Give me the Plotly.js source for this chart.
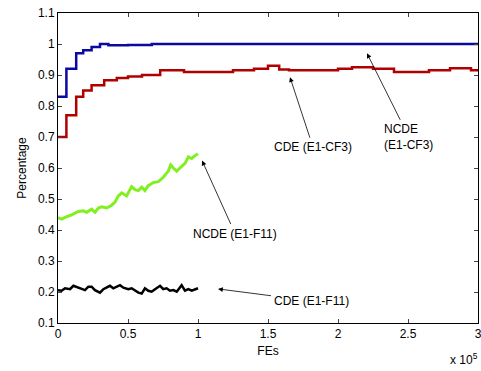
<!DOCTYPE html>
<html><head><meta charset="utf-8">
<script src="https://cdn.plot.ly/plotly-3.0.1.min.js"></script>
<style>html,body{margin:0;padding:0;background:#fff}#chart{width:481px;height:371px}</style>
</head><body><div id="chart"></div>
<script>
// x values in units of 1e5 FEs
const ncdeCF3_x = [0, 0.06, 0.13, 0.18, 0.24, 0.30, 0.36, 0.50, 0.67, 1.0, 1.5, 2.0, 2.5, 3.0];
const ncdeCF3_y = [0.83, 0.92, 0.97, 0.98, 0.99, 1.0, 0.996, 0.997, 1.0, 1.0, 1.0, 1.0, 1.0, 1.0];

const cdeCF3_x = [0, 0.06, 0.13, 0.18, 0.24, 0.33, 0.42, 0.50, 0.60, 0.73, 0.90, 1.0, 1.25, 1.40, 1.50, 1.58, 1.65, 1.85, 2.0, 2.1, 2.25, 2.4, 2.65, 2.8, 2.95, 3.0];
const cdeCF3_y = [0.70, 0.77, 0.83, 0.85, 0.867, 0.883, 0.89, 0.895, 0.90, 0.915, 0.91, 0.91, 0.915, 0.92, 0.93, 0.918, 0.915, 0.915, 0.92, 0.925, 0.92, 0.91, 0.915, 0.922, 0.915, 0.915];

const ncdeF11_x = [0, 0.026, 0.062, 0.098, 0.145, 0.181, 0.205, 0.24, 0.264, 0.288, 0.312, 0.348, 0.383, 0.407, 0.431, 0.455, 0.49, 0.526, 0.55, 0.574, 0.598, 0.621, 0.645, 0.681, 0.717, 0.752, 0.788, 0.805, 0.824, 0.848, 0.871, 0.907, 0.931, 0.955, 0.979, 1.0];
const ncdeF11_y = [0.44, 0.435, 0.443, 0.449, 0.46, 0.462, 0.457, 0.467, 0.457, 0.471, 0.475, 0.471, 0.48, 0.49, 0.51, 0.52, 0.51, 0.54, 0.53, 0.527, 0.538, 0.527, 0.543, 0.553, 0.556, 0.57, 0.59, 0.61, 0.60, 0.59, 0.60, 0.615, 0.636, 0.631, 0.64, 0.646];

const cdeF11_x = [0, 0.026, 0.05, 0.086, 0.11, 0.145, 0.17, 0.193, 0.217, 0.24, 0.264, 0.3, 0.324, 0.348, 0.371, 0.395, 0.419, 0.443, 0.467, 0.502, 0.526, 0.55, 0.574, 0.598, 0.621, 0.645, 0.669, 0.693, 0.729, 0.752, 0.776, 0.8, 0.824, 0.848, 0.883, 0.907, 0.931, 0.955, 0.979, 1.0];
const cdeF11_y = [0.206, 0.204, 0.212, 0.209, 0.22, 0.214, 0.209, 0.206, 0.217, 0.217, 0.206, 0.198, 0.209, 0.214, 0.22, 0.212, 0.217, 0.222, 0.214, 0.209, 0.212, 0.206, 0.198, 0.195, 0.212, 0.204, 0.201, 0.209, 0.22, 0.209, 0.212, 0.204, 0.206, 0.201, 0.222, 0.204, 0.209, 0.204, 0.209, 0.212];

const xTicks = [0, 0.5, 1, 1.5, 2, 2.5, 3];
const xTickText = ['0', '0.5', '1', '1.5', '2', '2.5', '3'];
const yTicks = [0.1, 0.2, 0.3, 0.4, 0.5, 0.6, 0.7, 0.8, 0.9, 1, 1.1];
const yTickText = ['0.1', '0.2', '0.3', '0.4', '0.5', '0.6', '0.7', '0.8', '0.9', '1', '1.1'];

const labels = {
  ncdeCF3: 'NCDE<br>(E1-CF3)',
  cdeCF3: 'CDE (E1-CF3)',
  ncdeF11: 'NCDE (E1-F11)',
  cdeF11: 'CDE (E1-F11)'
};

const FONT = 'Liberation Sans, Arial, Helvetica, sans-serif';

const traces = [
  {x: ncdeCF3_x, y: ncdeCF3_y, mode: 'lines', line: {color: '#0a0aa0', width: 2.5, shape: 'hv'}, name: 'NCDE (E1-CF3)'},
  {x: cdeCF3_x, y: cdeCF3_y, mode: 'lines', line: {color: '#b00000', width: 2.5, shape: 'hv'}, name: 'CDE (E1-CF3)'},
  {x: ncdeF11_x, y: ncdeF11_y, mode: 'lines', line: {color: '#80f020', width: 3}, name: 'NCDE (E1-F11)'},
  {x: cdeF11_x, y: cdeF11_y, mode: 'lines', line: {color: '#000000', width: 2.5}, name: 'CDE (E1-F11)'}
];

// label with an arrow pointing at (x, y); text centre offset by (ax, ay) pixels
function pointer(x, y, ax, ay, t) {
  return {x: x, y: y, xref: 'x', yref: 'y', ax: ax, ay: ay, text: t, showarrow: true, align: 'left',
    arrowhead: 2, arrowsize: 1.2, arrowwidth: 0.8, arrowcolor: '#000', standoff: 0, borderpad: 2,
    font: {family: FONT, size: 12, color: '#000'}};
}

const layout = {
  width: 481, height: 371,
  margin: {l: 58, r: 3, t: 13, b: 48},
  paper_bgcolor: '#fff', plot_bgcolor: '#fff',
  showlegend: false,
  font: {family: FONT, size: 12, color: '#000'},
  xaxis: {range: [0, 3], tickvals: xTicks, ticktext: xTickText, ticks: 'inside', ticklen: 4,
    ticklabeloverflow: 'allow',
    showline: true, mirror: 'ticks', linecolor: '#000', linewidth: 1, showgrid: false, zeroline: false,
    title: {text: 'FEs', font: {family: FONT, size: 12}, standoff: 6}},
  yaxis: {range: [0.1, 1.1], tickvals: yTicks, ticktext: yTickText, ticks: 'inside', ticklen: 4,
    ticklabeloverflow: 'allow',
    showline: true, mirror: 'ticks', linecolor: '#000', linewidth: 1, showgrid: false, zeroline: false,
    title: {text: 'Percentage', font: {family: FONT, size: 12}, standoff: 8}},
  annotations: [
    pointer(2.207, 0.97, 42, 84, labels.ncdeCF3),
    pointer(1.657, 0.893, 23, 70, labels.cdeCF3),
    pointer(1.029, 0.624, 33, 73, labels.ncdeF11),
    pointer(1.143, 0.21, 93, 12, labels.cdeF11),
    {x: 1, y: 0, xref: 'paper', yref: 'paper', xanchor: 'right', yanchor: 'top', yshift: -26, xshift: 2,
     text: 'x 10<sup>5</sup>', showarrow: false, font: {family: FONT, size: 12}}
  ]
};

Plotly.newPlot('chart', traces, layout, {displayModeBar: false, staticPlot: true});
</script>
</body></html>
